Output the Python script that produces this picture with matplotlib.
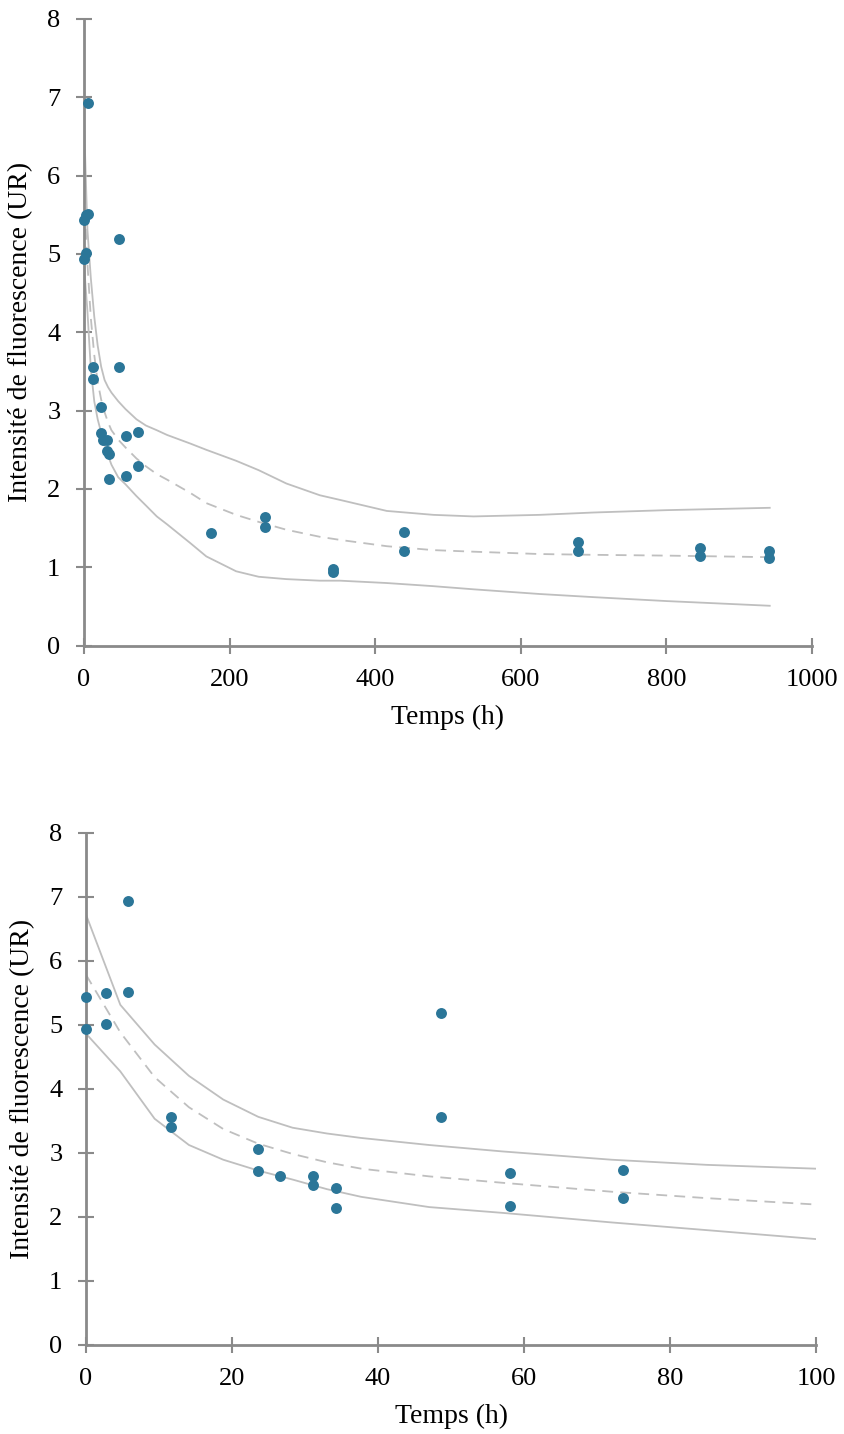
import matplotlib.pyplot as plt

# mesures de fluorescence (temps en h, intensité en UR)
temps = [0, 0, 2.75, 2.75, 5.7, 5.7, 11.7, 11.7, 23.6, 23.6, 26.6, 31.1, 31.1,
         34.2, 34.2, 48.6, 48.6, 58.1, 58.1, 73.6, 73.6, 175, 248, 248, 342, 342,
         439, 439, 678, 678, 846, 846, 941, 941]
intensite = [5.43, 4.93, 5.49, 5.01, 6.93, 5.51, 3.56, 3.40, 3.05, 2.71, 2.63, 2.63, 2.49,
             2.45, 2.13, 5.19, 3.56, 2.68, 2.16, 2.73, 2.29, 1.44, 1.64, 1.51, 0.98, 0.94,
             1.45, 1.21, 1.33, 1.21, 1.25, 1.14, 1.21, 1.12]

# courbes du modèle : médiane et bornes de l'intervalle
t_modele = [0, 4.7, 9.4, 14.1, 18.8, 23.6, 28.3, 33, 37.7, 47, 57, 72, 85, 100, 114,
            146, 168, 209, 240, 278, 324, 352, 416, 480, 535, 626, 700, 800, 942]
borne_haute = [6.72, 5.31, 4.69, 4.20, 3.83, 3.56, 3.39, 3.30, 3.23, 3.12, 3.02, 2.89, 2.81,
               2.75, 2.69, 2.58, 2.50, 2.36, 2.24, 2.07, 1.92, 1.86, 1.72, 1.67, 1.65, 1.67,
               1.70, 1.73, 1.76]
mediane = [5.78, 4.88, 4.18, 3.71, 3.37, 3.14, 2.98, 2.85, 2.75, 2.63, 2.53, 2.39, 2.29,
           2.19, 2.12, 1.95, 1.82, 1.67, 1.58, 1.48, 1.39, 1.35, 1.27, 1.22, 1.20, 1.17,
           1.16, 1.15, 1.13]
borne_basse = [4.86, 4.27, 3.53, 3.12, 2.89, 2.72, 2.58, 2.43, 2.31, 2.15, 2.06, 1.91, 1.79,
               1.65, 1.55, 1.31, 1.14, 0.95, 0.88, 0.85, 0.83, 0.83, 0.80, 0.76, 0.72, 0.66,
               0.62, 0.57, 0.51]

plt.rcParams['font.family'] = ['Liberation Serif', 'DejaVu Serif']

BLEU = '#2b7698'
GRIS = '#bfbfbf'
AXE = '#8a8a8a'

fig = plt.figure(figsize=(8.45, 14.34), dpi=100)
ax1 = fig.add_axes([0.0994, 0.5497, 0.8615, 0.4372])
ax2 = fig.add_axes([0.1018, 0.0623, 0.8639, 0.3570])


def tracer(ax, xmax, xticks):
    ax.plot(t_modele, borne_haute, color=GRIS, lw=1.3, zorder=2)
    ax.plot(t_modele, borne_basse, color=GRIS, lw=1.3, zorder=2)
    ax.plot(t_modele, mediane, color=GRIS, lw=1.3, ls=(0, (6, 4)), zorder=2)
    ax.scatter(temps, intensite, s=62, color=BLEU, zorder=3, clip_on=False,
               linewidths=0)
    ax.set_xlim(0, xmax)
    ax.set_ylim(0, 8)
    ax.set_xticks(xticks)
    ax.set_yticks(range(0, 9))
    for s in ['top', 'right']:
        ax.spines[s].set_visible(False)
    for s in ['left', 'bottom']:
        ax.spines[s].set_color(AXE)
        ax.spines[s].set_linewidth(2)
    ax.tick_params(direction='inout', length=12, width=1.5, color=AXE,
                   labelsize=19)
    ax.tick_params(axis='x', pad=11)
    ax.tick_params(axis='y', pad=11)
    ax.set_xlabel('Temps (h)', fontsize=20, labelpad=10)
    ax.set_ylabel('Intensité de fluorescence (UR)', fontsize=20, labelpad=10)


tracer(ax1, 1000, range(0, 1001, 200))
tracer(ax2, 100, range(0, 101, 20))

fig.savefig('out.png', dpi=100)
